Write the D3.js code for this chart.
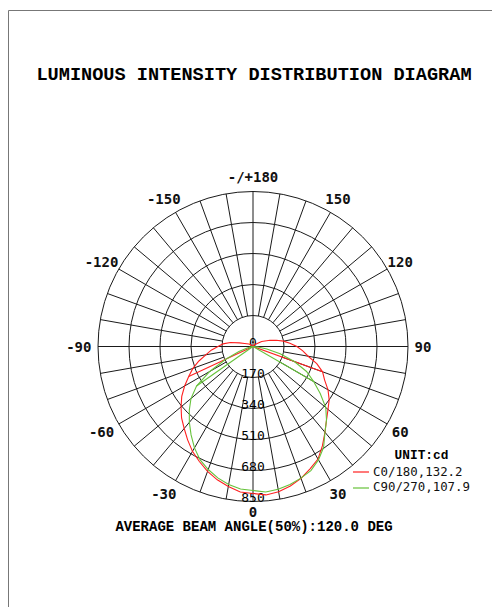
<!DOCTYPE html>
<html><head><meta charset="utf-8">
<script src="https://cdn.jsdelivr.net/npm/d3@7"></script>
<style>html,body{margin:0;padding:0;background:#fff;} svg{display:block;}</style>
</head><body>
<script>
// ---------- data ----------
const gammaDeg = [0,5,10,15,20,25,30,35,40,45,50,55,60,65,70,75,80,85,90,95,100,105,110,120,135,150,180];
const c0Values   = [817,817,809,792,770,740,713,664,614,570,537,510,475,433,406,362,307,274,241,203,170,132,99,55,16,5,0];
const c180Values = [806,801,779,757,729,696,664,625,587,554,515,477,433,389,351,307,263,230,192,165,126,77,49,27,11,5,0];
const c90Values  = [801,801,795,784,768,751,718,675,614,570,521,450,384,324,241,154,77,27,0,0,0,0,0,0,0,0,0];
const c270Values = [790,784,768,746,718,686,642,592,543,494,444,378,274,165,82,33,11,3,0,0,0,0,0,0,0,0,0];
const chordGamma = [[-65,70],[-55,60]];   // points joined to the centre
const seriesNames = ["C0/180,132.2","C90/270,107.9"];
const seriesColors = ["#ff2020","#66c23a"];
const ringValues = [0,170,340,510,680,850];
const angleTicks = [180,150,120,90,60,30,0,-30,-60,-90,-120,-150];
const angleTickLabels = ["-/+180","150","120","90","60","30","0","-30","-60","-90","-120","-150"];
const titleText = "LUMINOUS INTENSITY DISTRIBUTION DIAGRAM";
const beamText = "AVERAGE BEAM ANGLE(50%):120.0 DEG";
const unitText = "UNIT:cd";

// ---------- layout ----------
const W = 492, H = 607, cx = 253, cy = 346.5, R = 155;
const r = d3.scaleLinear().domain([0, 850]).range([0, R]);
const rad = g => g * Math.PI / 180;
const px = (g, v) => cx + r(v) * Math.sin(rad(g));
const py = (g, v) => cy + r(v) * Math.cos(rad(g));

const svg = d3.select("body").append("svg").attr("width", W).attr("height", H);

// frame
svg.append("path").attr("d", `M8.5,${H} V10.5 H${W}`).attr("fill", "none").attr("stroke", "#777").attr("stroke-width", 1);

// title
svg.append("text").attr("x", 254).attr("y", 80).attr("text-anchor", "middle")
  .attr("font-family", "'Liberation Mono', 'Courier New', monospace").attr("font-weight", "bold")
  .attr("font-size", 18.6).attr("fill", "#000").text(titleText);

const grid = svg.append("g").attr("stroke", "#1a1a1a").attr("stroke-width", 1).attr("fill", "none");
// rings
grid.selectAll("circle").data(ringValues.filter(v => v > 0)).join("circle")
  .attr("cx", cx).attr("cy", cy).attr("r", d => r(d));
// spokes
const spokeAngles = d3.range(-170, 181, 10);
grid.selectAll("line.sp").data(spokeAngles.filter(g => g % 90 !== 0)).join("line").attr("class", "sp")
  .attr("x1", g => px(g, ringValues[1])).attr("y1", g => py(g, ringValues[1]))
  .attr("x2", g => px(g, 850)).attr("y2", g => py(g, 850));
// axes through centre
grid.selectAll("line.ax").data([0, 90]).join("line").attr("class", "ax")
  .attr("x1", g => px(g, 850)).attr("y1", g => py(g, 850))
  .attr("x2", g => px(g + 180, 850)).attr("y2", g => py(g + 180, 850));

// radial labels
svg.append("g").selectAll("text").data(ringValues).join("text")
  .attr("x", cx).attr("y", d => cy + r(d)).attr("text-anchor", "middle")
  .attr("font-family", "'DejaVu Sans Mono', monospace").attr("font-size", 13).attr("fill", "#000")
  .text(d => d);

// angle labels
const cw = 0.602 * 14;
const labelR = g => (g === 0 ? 165.5 : 170);
svg.append("g").selectAll("text").data(angleTicks).join("text")
  .attr("x", g => cx + labelR(g) * Math.sin(rad(g)) - ((g < 0) ? cw / 2 : 0))
  .attr("y", g => cy + labelR(g) * Math.cos(rad(g)))
  .attr("dy", "0.36em").attr("text-anchor", "middle")
  .attr("font-family", "'DejaVu Sans Mono', monospace").attr("font-weight", "bold").attr("font-size", 14).attr("fill", "#111")
  .text((g, i) => angleTickLabels[i]);

// curves
const planes = [[c180Values, c0Values], [c270Values, c90Values]];
planes.forEach((pl, k) => {
  const [leftV, rightV] = pl;
  const pts = [];
  for (let i = gammaDeg.length - 1; i >= 0; i--) pts.push([-gammaDeg[i], leftV[i]]);
  for (let i = 1; i < gammaDeg.length; i++) pts.push([gammaDeg[i], rightV[i]]);
  const line = d3.line().x(d => px(d[0], d[1])).y(d => py(d[0], d[1]));
  svg.append("path").attr("d", line(pts)).attr("fill", "none")
    .attr("stroke", seriesColors[k]).attr("stroke-width", 1.1);
  chordGamma[k].forEach(g => {
    const i = gammaDeg.indexOf(Math.abs(g));
    const v = g < 0 ? leftV[i] : rightV[i];
    svg.append("path").attr("d", line([[g, 0], [g, v]])).attr("fill", "none")
      .attr("stroke", seriesColors[k]).attr("stroke-width", 1.1);
  });
});

// legend
svg.append("text").attr("x", 421.5).attr("y", 459).attr("text-anchor", "middle")
  .attr("font-family", "'Liberation Mono', monospace").attr("font-weight", "bold").attr("font-size", 12.8)
  .text(unitText);
seriesNames.forEach((n, i) => {
  svg.append("line").attr("x1", 353).attr("x2", 369).attr("y1", 472 + i * 16).attr("y2", 472 + i * 16)
    .attr("stroke", seriesColors[i]).attr("stroke-width", 1.2);
  svg.append("text").attr("x", 373).attr("y", 475.5 + i * 15.5)
    .attr("font-family", "'DejaVu Sans Mono', monospace").attr("font-size", 12.4).attr("fill", "#111")
    .text(n);
});

// beam angle text
svg.append("text").attr("x", 254).attr("y", 530.5).attr("text-anchor", "middle")
  .attr("font-family", "'Liberation Mono', 'Courier New', monospace").attr("font-weight", "bold")
  .attr("font-size", 14).attr("fill", "#000").text(beamText);
</script>
</body></html>
